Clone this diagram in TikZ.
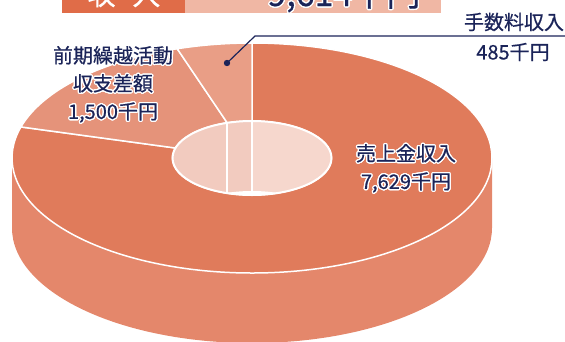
\documentclass[tikz,border=0pt]{standalone}
\usepackage{fontspec}
\setmainfont{Noto Sans CJK JP}
\newfontfamily\labelfont[FakeBold=0.5]{Noto Sans CJK JP}
\usepackage{contour}
\contourlength{1.3pt}
\usetikzlibrary{calc}
\definecolor{navy}{HTML}{1B2459}
\definecolor{salestop}{HTML}{E07B5B}
\definecolor{salesside}{HTML}{E4876B}
\definecolor{carrytop}{HTML}{E5937A}
\definecolor{feetop}{HTML}{E99E86}
\definecolor{holeleft}{HTML}{F2CBBF}
\definecolor{holeright}{HTML}{F6D7CD}
\definecolor{banddark}{HTML}{E06C48}
\definecolor{bandlight}{HTML}{F0B7A4}
\newcommand{\whitehalo}[1]{\contour{white}{#1}}

\begin{document}
\begin{tikzpicture}
[x=1pt, y=-1pt, every node/.style={inner sep=0pt},
 pielabel/.style={text=navy, align=center, font=\labelfont\fontsize{20}{28}\selectfont},
 slice/.style={draw=white, line width=1.5pt, line join=round}]
\useasboundingbox (0,0) rectangle (565,341);
\coordinate (c) at (252,158);
\coordinate (cb) at (252,228);
\fill [banddark] (62,-20) rectangle (185,13);
\fill [bandlight] (185,-20) rectangle (441,13);
\node (head) [anchor=base, text=white, font=\labelfont\fontsize{28}{28}\selectfont] at (124,5) {収\hspace{0.6em}入};
\node (total) [anchor=base, text=navy, font=\labelfont\fontsize{34}{34}\selectfont] at (344,6) {\whitehalo{9,614千円}};
\fill [salesside] ($(c)+(-240,0)$) -- ($(cb)+(-240,0)$) arc [start angle=180, end angle=0, x radius=240, y radius=115] -- ($(c)+(240,0)$) arc [start angle=0, end angle=180, x radius=240, y radius=115] -- cycle;
\filldraw [slice, fill=salestop] ($(c)+(-90:240 and 115)$) arc [start angle=-90, end angle=195.67, x radius=240, y radius=115] -- ($(c)+(195.67:79.5 and 37)$) arc [start angle=195.67, end angle=-90, x radius=79.5, y radius=37] -- cycle;
\filldraw [slice, fill=carrytop] ($(c)+(195.67:240 and 115)$) arc [start angle=195.67, end angle=251.84, x radius=240, y radius=115] -- ($(c)+(251.84:79.5 and 37)$) arc [start angle=251.84, end angle=195.67, x radius=79.5, y radius=37] -- cycle;
\filldraw [slice, fill=feetop] ($(c)+(251.84:240 and 115)$) arc [start angle=251.84, end angle=270, x radius=240, y radius=115] -- ($(c)+(270:79.5 and 37)$) arc [start angle=270, end angle=251.84, x radius=79.5, y radius=37] -- cycle;
\begin{scope}
\clip (c) ellipse [x radius=79.5, y radius=37];
\fill [holeleft] (170,100) rectangle (253,200);
\fill [holeright] (253,100) rectangle (335,200);
\fill [white] (cb) ellipse [x radius=79.5, y radius=37];
\draw [white, line width=1.5pt] ($(c)+(251.84:79.5 and 37)$) -- ++(0,70);
\draw [white, line width=1.5pt] ($(c)+(270:79.5 and 37)$) -- ++(0,70);
\end{scope}
\draw [white, line width=2pt] (c) ellipse [x radius=79.5, y radius=37];
\node (carry) [pielabel] at (113,85) {\whitehalo{前期繰越活動}\\\whitehalo{収支差額}\\\whitehalo{1,500千円}};
\node (sales) [pielabel] at (406,169) {\whitehalo{売上金収入}\\\whitehalo{7,629千円}};
\node (fee) [pielabel] at (514,22) {手数料収入};
\node (feeval) [pielabel] at (513,52) {485千円};
\coordinate (feedot) at (227,63);
\coordinate (feebend) at (255,36);
\coordinate (feeend) at (565,36);
\draw [navy, line width=1.2pt] (feedot) -- (feebend) -- (feeend);
\fill [navy] (feedot) circle [radius=3.2];
\end{tikzpicture}
\end{document}
